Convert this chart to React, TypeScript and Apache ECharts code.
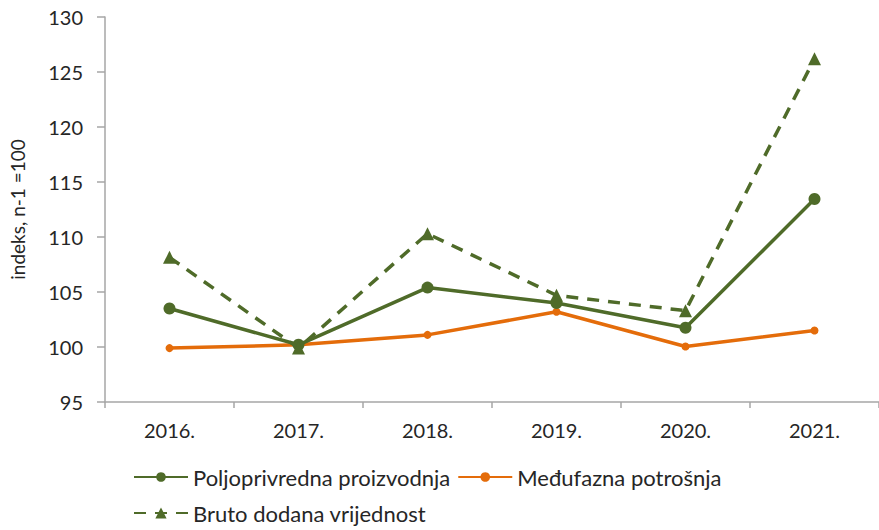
import React, { useEffect, useRef } from "react";
import * as echarts from "echarts";

const categories = ["2016.", "2017.", "2018.", "2019.", "2020.", "2021."];
const poljoprivredna = [103.5, 100.2, 105.4, 104.0, 101.75, 113.45];
const medufazna = [99.9, 100.2, 101.1, 103.2, 100.05, 101.5];
const bruto = [108.15, 99.9, 110.3, 104.7, 103.3, 126.2];
const seriesNames = ["Poljoprivredna proizvodnja", "Međufazna potrošnja", "Bruto dodana vrijednost"];
const yMin = 95;
const yMax = 130;
const yStep = 5;
const yAxisName = "indeks, n-1 =100";

const GREEN = "#4F6B29";
const ORANGE = "#E46C0A";
const AXIS = "#A6A6A6";
const TEXT = "#262626";
const FONT = "Lato";

export default function App() {
  const ref = useRef<HTMLDivElement>(null);
  useEffect(() => {
    document.body.style.margin = "0";
    if (!ref.current) return;
    const chart = echarts.init(ref.current, undefined, { renderer: "svg" });
    chart.setOption({
      animation: false,
      backgroundColor: "#ffffff",
      textStyle: { fontFamily: FONT, color: TEXT },
      grid: { left: 105, top: 17, width: 783, height: 385, containLabel: false },
      xAxis: {
        type: "category",
        data: categories,
        boundaryGap: true,
        axisLine: { lineStyle: { color: AXIS, width: 1.5 } },
        axisTick: { show: true, length: 6, lineStyle: { color: AXIS, width: 1.5 } },
        axisLabel: { color: TEXT, fontSize: 20, fontFamily: FONT, margin: 18 },
        splitLine: { show: false },
      },
      yAxis: {
        type: "value",
        min: yMin,
        max: yMax,
        interval: yStep,
        name: yAxisName,
        nameLocation: "middle",
        nameRotate: 90,
        nameGap: 78,
        nameTextStyle: { color: TEXT, fontSize: 19, fontFamily: FONT },
        axisLine: { show: true, lineStyle: { color: AXIS, width: 1.5 } },
        axisTick: { show: true, length: 8, lineStyle: { color: AXIS, width: 1.5 } },
        axisLabel: { color: TEXT, fontSize: 20, fontFamily: FONT, margin: 22 },
        splitLine: { show: false },
      },
      legend: [
        {
          data: [seriesNames[0], seriesNames[1]],
          left: 128,
          top: 461,
          itemWidth: 54,
          itemHeight: 12,
          itemGap: 7,
          textStyle: { color: TEXT, fontSize: 22, fontFamily: FONT },
        },
        {
          data: [seriesNames[2]],
          left: 128,
          top: 497,
          itemWidth: 54,
          itemHeight: 14,
          itemGap: 7,
          textStyle: { color: TEXT, fontSize: 22, fontFamily: FONT },
        },
      ],
      series: [
        {
          name: seriesNames[0],
          type: "line",
          data: poljoprivredna,
          symbol: "circle",
          symbolSize: 12,
          lineStyle: { color: GREEN, width: 3.5 },
          itemStyle: { color: GREEN },
          z: 3,
        },
        {
          name: seriesNames[1],
          type: "line",
          data: medufazna,
          symbol: "circle",
          symbolSize: 8,
          lineStyle: { color: ORANGE, width: 3.5 },
          itemStyle: { color: ORANGE },
          z: 2,
        },
        {
          name: seriesNames[2],
          type: "line",
          data: bruto,
          symbol: "triangle",
          symbolSize: 13,
          lineStyle: { color: GREEN, width: 3.5, type: [12, 9] },
          itemStyle: { color: GREEN },
          z: 4,
        },
      ],
    });
    return () => chart.dispose();
  }, []);
  return <div ref={ref} style={{ width: 879, height: 530 }} />;
}
